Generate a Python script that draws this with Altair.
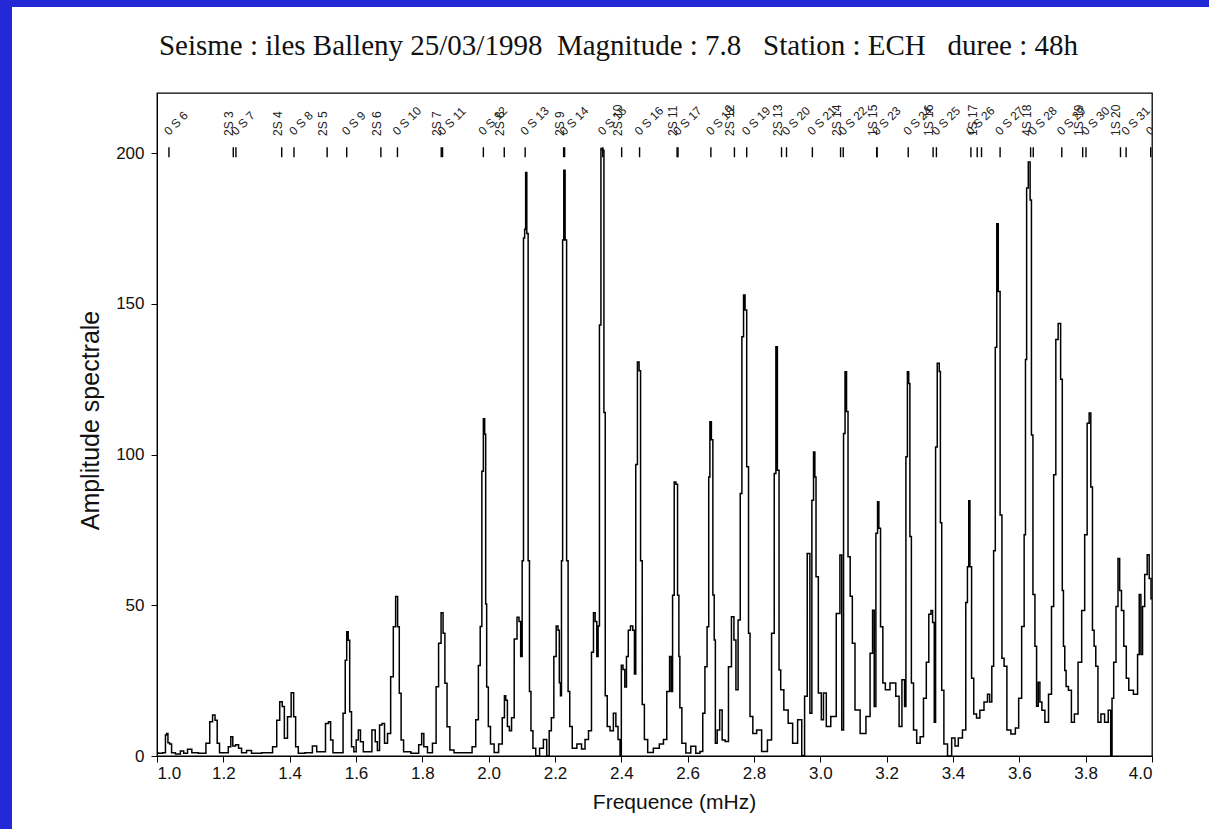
import altair as alt
import pandas as pd

# ---------------- data ----------------
FREQ = [
    1.000, 1.009, 1.024, 1.027, 1.031, 1.035, 1.041, 1.047, 1.064, 1.077, 1.084, 1.100, 1.110, 1.140,
    1.155, 1.163, 1.172, 1.178, 1.185, 1.192, 1.210, 1.220, 1.225, 1.232, 1.242, 1.250, 1.260, 1.280,
    1.290, 1.341, 1.356, 1.366, 1.374, 1.381, 1.387, 1.400, 1.409, 1.415, 1.421, 1.431, 1.461, 1.476,
    1.487, 1.502, 1.514, 1.520, 1.527, 1.534, 1.557, 1.565, 1.570, 1.574, 1.579, 1.583, 1.590, 1.597,
    1.604, 1.610, 1.617, 1.627, 1.642, 1.654, 1.662, 1.667, 1.675, 1.682, 1.690, 1.700, 1.709, 1.716,
    1.723, 1.728, 1.733, 1.739, 1.748, 1.783, 1.795, 1.801, 1.808, 1.823, 1.838, 1.845, 1.853, 1.860,
    1.865, 1.871, 1.878, 1.888, 1.903, 1.944, 1.956, 1.966, 1.972, 1.977, 1.982, 1.986, 1.990, 1.992,
    1.996, 2.002, 2.009, 2.024, 2.036, 2.046, 2.049, 2.054, 2.059, 2.066, 2.072, 2.082, 2.089, 2.094,
    2.099, 2.103, 2.107, 2.110, 2.113, 2.117, 2.121, 2.125, 2.130, 2.137, 2.147, 2.160, 2.170, 2.180,
    2.185, 2.193, 2.200, 2.207, 2.211, 2.215, 2.218, 2.221, 2.225, 2.228, 2.233, 2.237, 2.242, 2.247,
    2.257, 2.275, 2.285, 2.296, 2.306, 2.314, 2.318, 2.324, 2.328, 2.332, 2.336, 2.341, 2.346, 2.349,
    2.354, 2.361, 2.371, 2.381, 2.386, 2.394, 2.398, 2.402, 2.408, 2.413, 2.418, 2.424, 2.431, 2.438,
    2.441, 2.446, 2.451, 2.456, 2.460, 2.466, 2.473, 2.486, 2.507, 2.522, 2.532, 2.542, 2.549, 2.552,
    2.557, 2.562, 2.567, 2.572, 2.575, 2.578, 2.587, 2.602, 2.617, 2.632, 2.642, 2.649, 2.655, 2.662,
    2.665, 2.669, 2.674, 2.678, 2.682, 2.685, 2.693, 2.700, 2.708, 2.718, 2.728, 2.736, 2.743, 2.748,
    2.756, 2.761, 2.766, 2.771, 2.775, 2.781, 2.786, 2.790, 2.803, 2.813, 2.833, 2.848, 2.858, 2.864,
    2.868, 2.873, 2.878, 2.883, 2.897, 2.909, 2.924, 2.939, 2.949, 2.956, 2.965, 2.972, 2.977, 2.982,
    2.985, 2.989, 2.999, 3.007, 3.012, 3.024, 3.039, 3.057, 3.061, 3.068, 3.072, 3.077, 3.081, 3.086,
    3.094, 3.099, 3.110, 3.130, 3.145, 3.155, 3.160, 3.165, 3.170, 3.175, 3.178, 3.185, 3.192, 3.200,
    3.220, 3.235, 3.240, 3.252, 3.256, 3.260, 3.265, 3.268, 3.272, 3.277, 3.285, 3.296, 3.306, 3.316,
    3.323, 3.331, 3.336, 3.341, 3.346, 3.349, 3.356, 3.361, 3.363, 3.369, 3.376, 3.391, 3.401, 3.411,
    3.421, 3.436, 3.441, 3.446, 3.449, 3.453, 3.459, 3.466, 3.476, 3.486, 3.501, 3.507, 3.514, 3.520,
    3.525, 3.530, 3.534, 3.539, 3.545, 3.550, 3.558, 3.567, 3.582, 3.594, 3.602, 3.612, 3.617, 3.620,
    3.624, 3.630, 3.635, 3.638, 3.644, 3.650, 3.654, 3.660, 3.664, 3.672, 3.682, 3.694, 3.700, 3.707,
    3.713, 3.721, 3.728, 3.731, 3.735, 3.739, 3.743, 3.753, 3.761, 3.771, 3.783, 3.793, 3.801, 3.808,
    3.813, 3.818, 3.823, 3.828, 3.833, 3.841, 3.851, 3.863, 3.873, 3.878, 3.881, 3.888, 3.895, 3.900,
    3.905, 3.911, 3.919, 3.926, 3.934, 3.954, 3.959, 3.964, 3.969, 3.974, 3.982, 3.989, 3.994, 4.000,
]
AMP = [
    1.0, 0.9, 1.1, 7.0, 7.5, 4.4, 4.0, 1.1, 0.7, 1.7, 0.9, 2.2, 1.1, 0.9,
    4.2, 11.4, 13.6, 11.9, 4.2, 1.1, 1.1, 3.1, 6.4, 3.3, 3.7, 2.6, 1.1, 1.8,
    0.9, 1.1, 3.1, 11.9, 18.0, 16.4, 5.9, 13.0, 21.0, 13.0, 3.1, 0.9, 1.1, 3.3,
    1.4, 1.4, 10.8, 11.4, 5.3, 1.1, 1.1, 14.2, 31.8, 41.2, 38.4, 14.7, 3.1, 1.4,
    5.3, 8.6, 4.7, 1.4, 1.4, 8.6, 4.7, 1.8, 10.3, 10.8, 4.2, 7.5, 26.3, 42.9,
    52.9, 42.9, 20.8, 5.3, 1.4, 0.9, 3.7, 7.5, 3.1, 1.1, 4.2, 23.0, 37.4, 47.5,
    40.7, 24.1, 9.7, 2.0, 1.1, 1.1, 3.1, 12.0, 30.0, 43.0, 94.5, 111.9, 106.8, 50.4,
    22.9, 9.8, 4.0, 1.2, 4.0, 12.7, 20.0, 18.5, 9.8, 8.4, 12.7, 38.8, 46.0, 44.6,
    33.0, 64.8, 171.9, 174.8, 193.6, 173.4, 64.8, 21.4, 8.4, 2.6, 0.0, 2.6, 5.5, 0.0,
    8.4, 12.7, 33.0, 43.1, 41.7, 24.3, 20.0, 64.8, 171.2, 194.4, 171.2, 64.8, 21.4, 9.8,
    2.6, 4.0, 2.3, 5.5, 8.4, 34.4, 47.5, 44.6, 33.0, 43.1, 143.0, 201.6, 201.0, 114.0,
    20.0, 9.8, 8.4, 14.2, 9.8, 5.5, 0.0, 30.1, 28.7, 22.9, 33.0, 41.7, 43.1, 41.7,
    27.2, 96.7, 130.7, 127.8, 64.8, 17.1, 5.5, 1.2, 2.6, 4.0, 5.5, 21.4, 33.0, 21.4,
    53.3, 90.9, 90.2, 53.3, 33.0, 16.0, 4.2, 1.0, 3.2, 0.9, 1.5, 14.2, 29.6, 42.9,
    92.6, 110.9, 104.9, 53.4, 38.5, 4.2, 8.6, 15.3, 5.3, 4.8, 29.6, 46.2, 38.5, 22.0,
    45.1, 87.1, 139.1, 153.0, 148.0, 96.0, 40.7, 13.1, 7.5, 8.6, 1.5, 5.3, 40.7, 93.7,
    135.8, 94.8, 28.5, 22.0, 15.3, 10.9, 4.2, 12.0, 0.2, 19.8, 67.2, 14.2, 84.9, 100.9,
    92.6, 59.5, 20.9, 12.0, 20.9, 9.8, 13.1, 47.3, 66.7, 8.6, 107.0, 127.5, 114.3, 66.1,
    53.0, 37.4, 15.3, 7.5, 13.1, 34.1, 48.4, 16.4, 73.9, 84.4, 75.6, 42.9, 24.2, 22.0,
    24.2, 19.8, 9.8, 25.3, 16.4, 99.3, 127.5, 123.6, 72.8, 24.2, 8.6, 4.2, 6.4, 19.2,
    31.1, 47.0, 48.3, 44.3, 11.2, 102.5, 130.3, 127.6, 77.4, 21.8, 4.0, 0.0, 6.0, 3.3,
    6.0, 8.6, 50.9, 62.8, 84.7, 62.8, 25.8, 13.9, 12.6, 15.2, 17.9, 20.5, 17.9, 29.8,
    68.1, 135.6, 176.6, 154.1, 80.0, 32.4, 29.8, 8.6, 7.3, 9.3, 19.2, 43.0, 73.4, 131.6,
    188.5, 197.1, 184.5, 106.5, 53.6, 36.4, 16.5, 24.5, 17.9, 15.2, 11.2, 20.5, 49.6, 93.3,
    138.2, 143.5, 125.0, 54.9, 36.4, 28.4, 23.1, 21.8, 11.2, 13.9, 31.1, 48.3, 73.4, 110.4,
    113.8, 89.3, 41.7, 36.4, 29.8, 11.2, 13.9, 11.2, 15.2, 0.0, 19.2, 31.1, 49.6, 65.5,
    54.9, 48.3, 36.4, 25.8, 21.8, 20.5, 33.7, 53.6, 33.7, 49.6, 60.2, 66.8, 58.9, 52.2,
]

# normal-mode markers along the top of the plot
MODE_FREQ = [
    1.036, 1.230, 1.238, 1.376, 1.413, 1.513, 1.572, 1.675, 1.725, 1.857, 1.861, 1.984, 2.047,
    2.110, 2.226, 2.229, 2.344, 2.401, 2.455, 2.568, 2.571, 2.670, 2.741, 2.778, 2.883, 2.898,
    2.976, 3.061, 3.069, 3.170, 3.171, 3.265, 3.340, 3.350, 3.454, 3.473, 3.486, 3.542, 3.634,
    3.642, 3.728, 3.791, 3.801, 3.905, 3.922, 3.996,
]
MODE_LABEL = [
    "0 S 6", "2S 3", "0 S 7", "2S 4", "0 S 8", "2S 5", "0 S 9", "2S 6", "0 S 10", "2S 7", "0 S 11",
    "0 S 12", "2S 8", "0 S 13", "2S 9", "0 S 14", "0 S 15", "2S 10", "0 S 16", "2S 11", "0 S 17",
    "0 S 18", "2S 12", "0 S 19", "2S 13", "0 S 20", "0 S 21", "2S 14", "0 S 22", "1S 15", "0 S 23",
    "0 S 24", "1S 16", "0 S 25", "0 S 26", "1S 17", "", "0 S 27", "4S 18", "0 S 28", "0 S 29",
    "1S 19", "0 S 30", "1S 20", "0 S 31", "0 S 32",
]
MODE_KIND = [
    "d", "v", "d", "v", "d", "v", "d", "v", "d", "v", "d",
    "d", "v", "d", "v", "d", "d", "v", "d", "v", "d",
    "d", "v", "d", "v", "d", "d", "v", "d", "v", "d",
    "d", "v", "d", "d", "v", "v", "d", "v", "d", "d",
    "v", "d", "v", "d", "d",
]

X_TICKS = [1.0, 1.2, 1.4, 1.6, 1.8, 2.0, 2.2, 2.4, 2.6, 2.8, 3.0, 3.2, 3.4, 3.6, 3.8, 4.0]
Y_TICKS = [0, 50, 100, 150, 200]

TITLE = "Seisme : iles Balleny 25/03/1998\u00a0 Magnitude : 7.8\u00a0\u00a0 Station : ECH\u00a0\u00a0 duree : 48h"
X_TITLE = "Frequence (mHz)"
Y_TITLE = "Amplitude spectrale"

BLUE = "#2329d6"
SANS = "Liberation Sans, Arial, sans-serif"
W, H = 995, 663
PAD_L, PAD_T, PAD_R, PAD_B = 157, 93, 57, 73

spec = pd.DataFrame({"f": FREQ, "a": AMP})
modes = pd.DataFrame({"f": MODE_FREQ, "label": MODE_LABEL, "kind": MODE_KIND})
one = pd.DataFrame({"t": [TITLE]})

xs = alt.Scale(domain=[1.0, 4.0], nice=False, zero=False)
ys = alt.Scale(domain=[0, 220], nice=False)

X_AXIS = alt.Axis(
    values=X_TICKS, format=".1f", title=X_TITLE, grid=False,
    labelFont=SANS, labelFontSize=17, labelColor="#111",
    labelPadding=3, tickSize=6, tickColor="black", domainColor="black",
    titleFont=SANS, titleFontSize=21, titleFontWeight="normal",
    titleColor="#111", titleX=517, titleY=46, titleBaseline="middle",
)
Y_AXIS = alt.Axis(
    values=Y_TICKS, title=Y_TITLE, grid=False,
    labelFont=SANS, labelFontSize=17, labelColor="#111",
    labelPadding=7, tickSize=6, tickColor="black", domainColor="black",
    titleFont=SANS, titleFontSize=25, titleFontWeight="normal",
    titleColor="#111", titleX=-67, titleY=327, titleBaseline="middle",
)

line = alt.Chart(spec).mark_line(
    color="black", strokeWidth=1.5, interpolate="step", clip=True
).encode(
    x=alt.X("f:Q", scale=xs, axis=X_AXIS),
    y=alt.Y("a:Q", scale=ys, axis=Y_AXIS),
)

ticks = alt.Chart(modes).mark_rule(color="black", strokeWidth=1.4).encode(
    x=alt.X("f:Q", scale=xs, axis=X_AXIS),
    y=alt.datum(198.7),
    y2=alt.datum(202.0),
)

diag = alt.Chart(modes).transform_filter(alt.datum.kind == "d").mark_text(
    angle=315, align="left", baseline="alphabetic", font=SANS,
    fontSize=12, color="#222", clip=True,
).encode(x=alt.X("f:Q", scale=xs, axis=X_AXIS), y=alt.value(43), text="label:N")

vert = alt.Chart(modes).transform_filter(alt.datum.kind == "v").mark_text(
    angle=270, align="left", baseline="alphabetic", font=SANS,
    fontSize=12, color="#222", clip=True,
).encode(x=alt.X("f:Q", scale=xs, axis=X_AXIS), y=alt.value(43), text="label:N")

band_left = alt.Chart(one).mark_rect(color=BLUE).encode(
    x=alt.value(-PAD_L), x2=alt.value(-PAD_L + 12),
    y=alt.value(-PAD_T), y2=alt.value(H + PAD_B),
)
band_top = alt.Chart(one).mark_rect(color=BLUE).encode(
    x=alt.value(-PAD_L), x2=alt.value(W + PAD_R),
    y=alt.value(-PAD_T), y2=alt.value(-PAD_T + 7),
)

title = alt.Chart(one).mark_text(
    font="Liberation Serif", fontSize=29, align="center", baseline="alphabetic", color="#111"
).encode(x=alt.value(461.5), y=alt.value(-38), text="t:N")

chart = alt.layer(band_left, band_top, title, line, ticks, diag, vert).properties(
    width=W, height=H,
    autosize=alt.AutoSizeParams(type="none"),
    padding={"left": PAD_L, "top": PAD_T, "right": PAD_R, "bottom": PAD_B},
    background="white",
).configure_view(stroke="black", strokeWidth=1.3)

chart.save("out.html", embed_options={"renderer": "svg", "actions": False})
